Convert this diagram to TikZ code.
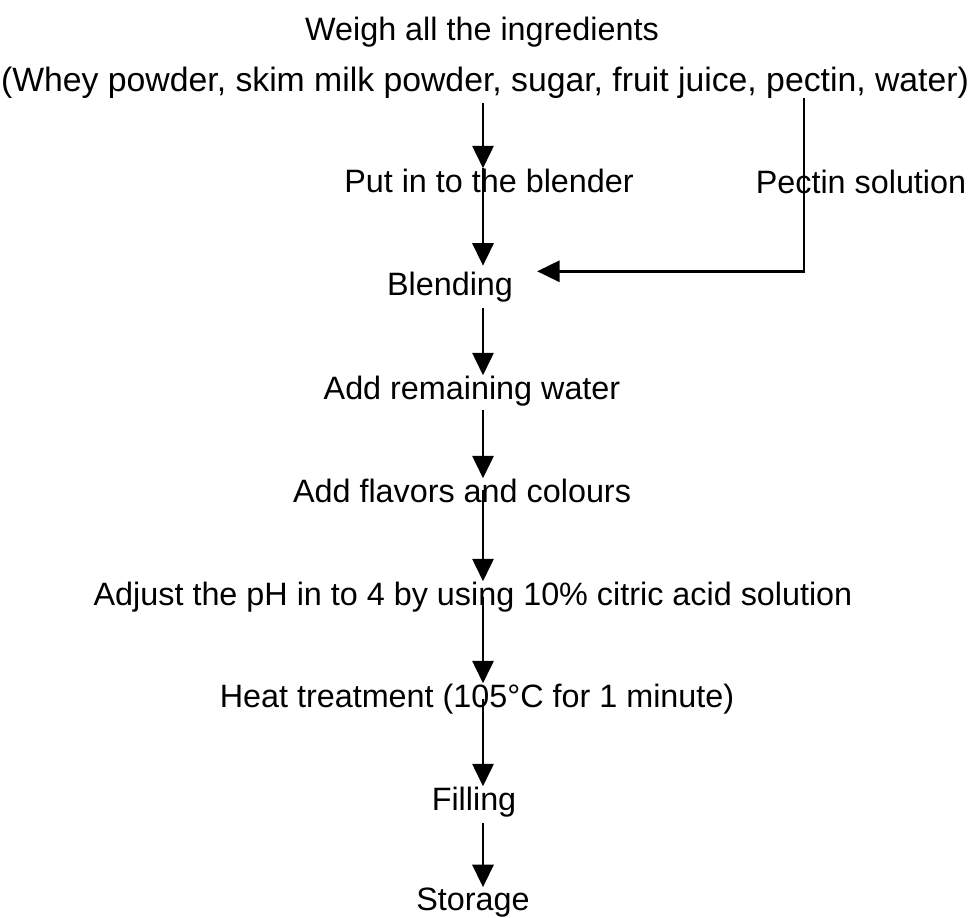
\documentclass[tikz,border=0pt]{standalone}
\usepackage{fontspec}
\setmainfont{Liberation Sans}
\usetikzlibrary{arrows.meta}

\tikzset{
  step text/.style={
    inner sep=0pt,
    anchor=base,
    font=\fontsize{23}{27}\selectfont
  },
  flow/.style={
    line width=2pt,
    -{Triangle[width=15pt,length=16pt]}
  }
}

\begin{document}
\begin{tikzpicture}[x=0.025cm, y=-0.025cm]
  \useasboundingbox (0,0) rectangle (971,917);

  % Main line of the process
  \coordinate (axis) at (483,0);
  \coordinate (pec) at (804,0);

  % Steps
  \node[step text] (weigh) at (482,40) {Weigh all the ingredients};
  \node[step text, font=\fontsize{24}{28}\selectfont] (whey) at (485,91) {(Whey powder, skim milk powder, sugar, fruit juice, pectin, water)};
  \node[step text] (put) at (489,192) {Put in to the blender};
  \node[step text] (pectin) at (861,193) {Pectin solution};
  \node[step text] (blend) at (450,295) {Blending};
  \node[step text] (water) at (472,399) {Add remaining water};
  \node[step text] (flavor) at (462,502) {Add flavors and colours};
  \node[step text] (ph) at (473,605) {Adjust the pH in to 4 by using 10\% citric acid solution};
  \node[step text] (heat) at (477,707) {Heat treatment (105\textdegree C for 1 minute)};
  \node[step text] (fill) at (474,810) {Filling};
  \node[step text] (store) at (473,910) {Storage};

  % Arrows
  \draw[flow, shorten <=3pt] (whey.south -| axis) -- (put.north -| axis);
  \draw[flow, shorten >=4pt] (put.north -| axis) -- (blend.north -| axis);
  \draw[flow, shorten <=4pt] (blend.south -| axis) -- (water.north -| axis);
  \draw[flow, shorten <=3pt] (water.south -| axis) -- (flavor.north -| axis);
  \draw[flow] (flavor.center -| axis) -- (ph.north -| axis);
  \draw[flow] (ph.center -| axis) -- (heat.north -| axis);
  \draw[flow] (heat.center -| axis) -- (fill.north -| axis);
  \draw[flow, shorten <=4pt] (fill.south -| axis) -- (store.north -| axis);

  % Pectin solution joins at blending
  \draw[flow, shorten >=17pt] (whey.south -| pec) -- (pec |- blend.north) -- (blend.north east);
\end{tikzpicture}
\end{document}
